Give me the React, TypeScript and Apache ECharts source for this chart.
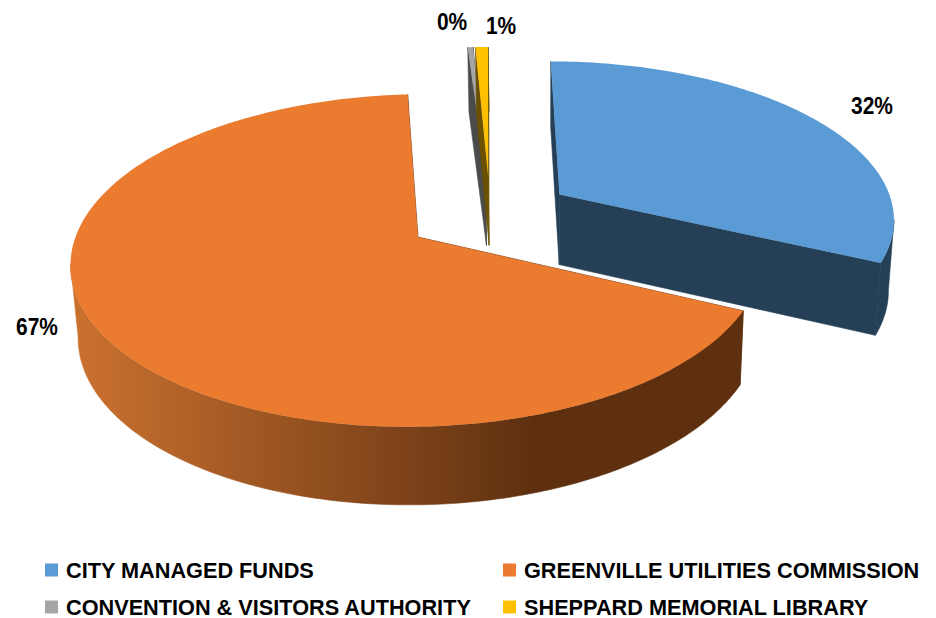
import React, { useEffect, useRef } from "react";
import * as echarts from "echarts";

// Share of the budget per organisation, in percent.
const organisations = [
  "CITY MANAGED FUNDS",
  "GREENVILLE UTILITIES COMMISSION",
  "CONVENTION & VISITORS AUTHORITY",
  "SHEPPARD MEMORIAL LIBRARY",
];
const shares = [32, 67, 0.3, 0.7];
const shareLabels = ["32%", "67%", "0%", "1%"];

// Styling per slice, in the same order as the shares.
const topColors = ["#5B9BD5", "#EB7B2F", "#A5A5A5", "#FFC000"];
const sideColors = ["#243F56", "#5E3010", "#4B4B4B", "#6B5000"];
const explodeX = [0.421, 0, 0.197, 0.205];
const explodeY = [-0.27, 0, -0.395, -0.395];
const labelX = [872, 37, 452, 501];
const labelY = [106, 327, 22, 26];
const drawOrder = [2, 3, 1, 0];

// Tilted disc projection: plane units to pixels, with a little perspective.
const ORIGIN_X = 418;
const ORIGIN_Y = 237;
const RADIUS_X = 342.5;
const RADIUS_Y = 163;
const PERSPECTIVE = 0.141;
const VANISH_X = 487;

const LABEL_FONT = '"Liberation Sans", Arial, sans-serif';

type Pt = [number, number];

function project(x: number, y: number): Pt {
  const s = 1 / (1 - PERSPECTIVE * y);
  return [
    ORIGIN_X + RADIUS_X * x * s + (VANISH_X - ORIGIN_X) * (1 - s),
    ORIGIN_Y + RADIUS_Y * y * s,
  ];
}

// Point on the underside of the disc, below a point on its top face.
function drop(p: Pt): Pt {
  return [p[0] - 0.016 * (p[0] - 545), p[1] + 70 + (p[1] - 195) * 0.035];
}

function sliceShapes(startDeg: number, endDeg: number, dx: number, dy: number) {
  const rim: Pt[] = [];
  const steps = Math.max(2, Math.ceil(endDeg - startDeg));
  for (let i = 0; i <= steps; i++) {
    const a = ((startDeg + ((endDeg - startDeg) * i) / steps) * Math.PI) / 180;
    rim.push(project(dx + Math.sin(a), dy - Math.cos(a)));
  }
  const apex = project(dx, dy);
  const rimLow = rim.map(drop);

  // Only the part of the rim between its rightmost and leftmost points faces the viewer.
  const xs = rim.map((p) => p[0]);
  const from = xs.indexOf(Math.max(...xs));
  const leftmost = xs.indexOf(Math.min(...xs));
  const to = leftmost > from ? leftmost : rim.length - 1;
  const wall = [...rim.slice(from, to + 1), ...rimLow.slice(from, to + 1).reverse()];

  return {
    top: [apex, ...rim],
    wall,
    cutStart: [apex, rim[0], rimLow[0], drop(apex)],
    cutEnd: [apex, rim[rim.length - 1], rimLow[rimLow.length - 1], drop(apex)],
  };
}

function sliceSeries(index: number) {
  const total = shares.reduce((a, b) => a + b, 0);
  const startDeg = (shares.slice(0, index).reduce((a, b) => a + b, 0) / total) * 360;
  const renderItem = (_params: any, api: any) => {
    const endDeg = startDeg + (api.value(0) / total) * 360;
    const shape = sliceShapes(startDeg, endDeg, explodeX[index], explodeY[index]);
    const side = sideColors[index];
    const wallFill =
      index === 1
        ? new echarts.graphic.LinearGradient(
            70,
            0,
            745,
            0,
            [
              { offset: 0, color: "#CC7230" },
              { offset: 0.69, color: "#5E3010" },
              { offset: 1, color: "#5E3010" },
            ],
            true
          )
        : side;
    const poly = (points: Pt[], fill: any, edge: boolean) => ({
      type: "polygon",
      shape: { points },
      style: edge ? { fill, stroke: fill, lineWidth: 0.6 } : { fill, stroke: "none" },
    });
    return {
      type: "group",
      children: [
        poly(shape.cutStart, side, true),
        poly(shape.cutEnd, side, true),
        poly(shape.wall, wallFill, true),
        poly(shape.top, topColors[index], false),
        {
          type: "text",
          x: labelX[index],
          y: labelY[index],
          scaleX: 0.91,
          style: {
            text: shareLabels[index],
            fill: "#000000",
            font: `bold 23px ${LABEL_FONT}`,
            align: "center",
            verticalAlign: "middle",
          },
        },
      ],
    };
  };
  return {
    type: "custom",
    name: organisations[index],
    coordinateSystem: "none",
    itemStyle: { color: topColors[index] },
    data: [[shares[index]]],
    renderItem,
    z: 2,
  };
}

function legendColumn(names: string[], left: number) {
  return {
    left,
    top: 559,
    orient: "vertical",
    icon: "rect",
    itemWidth: 13,
    itemHeight: 13,
    itemGap: 15,
    padding: 0,
    selectedMode: false,
    data: names,
    textStyle: {
      color: "#000000",
      fontFamily: LABEL_FONT,
      fontWeight: "bold",
      fontSize: 21.7,
      padding: [0, 0, 0, 3],
    },
  };
}

export default function App() {
  const ref = useRef<HTMLDivElement>(null);
  useEffect(() => {
    document.body.style.margin = "0";
    const chart = echarts.init(ref.current!, undefined, { renderer: "svg" });
    chart.setOption({
      animation: false,
      backgroundColor: "#ffffff",
      legend: [
        legendColumn([organisations[0], organisations[2]], 45),
        legendColumn([organisations[1], organisations[3]], 503),
      ],
      series: drawOrder.map(sliceSeries),
    });
    return () => chart.dispose();
  }, []);
  return <div ref={ref} style={{ width: 936, height: 618 }} />;
}
